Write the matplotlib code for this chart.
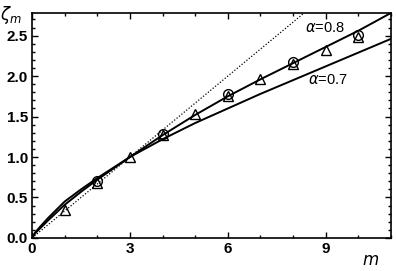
import matplotlib
matplotlib.use("Agg")
import matplotlib.pyplot as plt
from matplotlib.ticker import MultipleLocator

# data
m_curve = [0, 0.1, 0.25, 0.5, 1, 1.5, 2, 3, 4, 5, 6, 7, 8, 9, 10, 11]
zeta_a08 = [0, 0.06, 0.12, 0.22, 0.41, 0.57, 0.72, 1.0, 1.27, 1.52, 1.75, 1.96, 2.16, 2.36, 2.56, 2.78]
zeta_a07 = [0, 0.07, 0.14, 0.25, 0.45, 0.60, 0.74, 1.0, 1.22, 1.42, 1.60, 1.78, 1.95, 2.12, 2.29, 2.46]

m_k41 = [0, 11]
zeta_k41 = [0, 11 / 3]

m_tri = [1, 2, 3, 4, 5, 6, 7, 8, 9, 10]
zeta_tri = [0.35, 0.68, 1.0, 1.27, 1.53, 1.76, 1.96, 2.15, 2.32, 2.48]

m_circ = [2, 4, 6, 8, 10]
zeta_circ = [0.70, 1.29, 1.78, 2.17, 2.51]

plt.rcParams['font.family'] = ['Liberation Sans', 'DejaVu Sans']

fig = plt.figure(figsize=(3.96, 2.71), dpi=100)
ax = fig.add_axes([0.081, 0.122, 0.906, 0.830])

ax.plot(m_k41, zeta_k41, color='black', linestyle=(0, (1, 1.5)), linewidth=0.9)
ax.plot(m_curve, zeta_a08, color='black', linewidth=1.4)
ax.plot(m_curve, zeta_a07, color='black', linewidth=1.4)
ax.plot(m_circ, zeta_circ, 'o', mfc='none', mec='black', ms=7, mew=1.0)
ax.plot(m_tri, zeta_tri, '^', mfc='none', mec='black', ms=7, mew=1.0)

ax.text(8.37, 2.59, r'$\alpha$=0.8', fontsize=10.5, va='center', ha='left')
ax.text(8.47, 1.95, r'$\alpha$=0.7', fontsize=10.5, va='center', ha='left')

ax.set_xlim(0, 11)
ax.set_ylim(0, 2.78)
ax.xaxis.set_major_locator(MultipleLocator(3))
ax.xaxis.set_minor_locator(MultipleLocator(1))
ax.yaxis.set_major_locator(MultipleLocator(0.5))
ax.yaxis.set_minor_locator(MultipleLocator(0.1))
ax.yaxis.set_major_formatter(matplotlib.ticker.FormatStrFormatter('%.1f'))
ax.tick_params(which='both', direction='in', top=True, right=True, width=1.0)
ax.tick_params(which='major', length=4, labelsize=11, pad=3)
ax.tick_params(which='minor', length=2.5)
for lab in ax.get_xticklabels() + ax.get_yticklabels():
    lab.set_fontweight('bold')
for sp in ax.spines.values():
    sp.set_linewidth(1.2)

fig.text(0.0, 0.985, r'$\zeta_m$', fontsize=12, va='top', ha='left')
fig.text(0.935, 0.04, r'$m$', fontsize=12, va='center', ha='center')

fig.savefig('out.png', dpi=100)
